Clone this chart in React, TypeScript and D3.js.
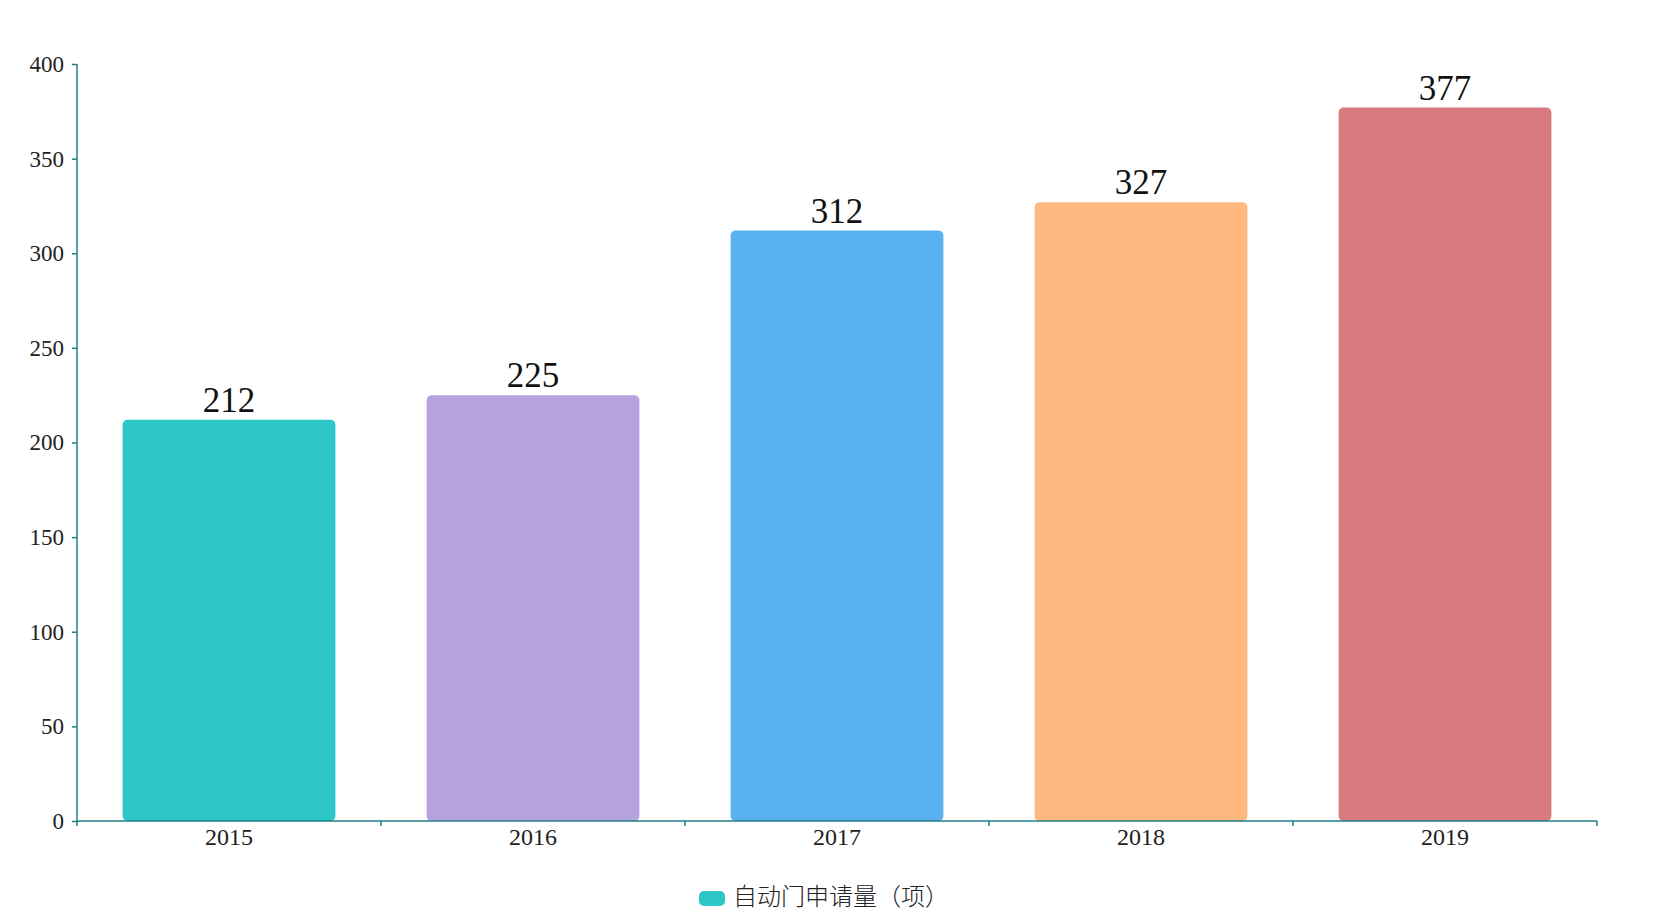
import { useRef, useEffect } from 'react';
import * as d3 from 'd3';

// Chart data
const years = ['2015', '2016', '2017', '2018', '2019'];
const counts = [212, 225, 312, 327, 377];
const barColors = ['#2ec7c9', '#b6a2de', '#5ab1ef', '#ffb980', '#d87a80'];
const yTicks = [0, 50, 100, 150, 200, 250, 300, 350, 400];
const legendLabel = '自动门申请量（项）';

const WIDTH = 1660;
const HEIGHT = 916;
const AXIS_COLOR = '#1f7f86';
const SERIF = '"Liberation Serif", "DejaVu Serif", serif';
const CJK = '"Noto Sans CJK SC", "Noto Sans", sans-serif';

export default function App() {
  const svgRef = useRef<SVGSVGElement>(null);

  useEffect(() => {
    if (!svgRef.current) return;
    const svg = d3.select(svgRef.current);
    svg.selectAll('*').remove();

    const margin = { top: 64, right: 63, bottom: 95, left: 77 };
    const innerWidth = WIDTH - margin.left - margin.right;
    const innerHeight = HEIGHT - margin.top - margin.bottom;

    const x = d3.scaleBand<string>()
      .domain(years)
      .range([0, innerWidth])
      .paddingInner(0.3)
      .paddingOuter(0.15);

    const y = d3.scaleLinear()
      .domain([0, 400])
      .range([innerHeight, 0]);

    const g = svg.append('g')
      .attr('transform', `translate(${margin.left},${margin.top})`);

    // Bars
    g.selectAll('rect.bar')
      .data(counts)
      .enter().append('rect')
      .attr('class', 'bar')
      .attr('x', (_, i) => x(years[i])!)
      .attr('y', d => y(d))
      .attr('width', x.bandwidth())
      .attr('height', d => innerHeight - y(d))
      .attr('rx', 5)
      .attr('ry', 5)
      .attr('fill', (_, i) => barColors[i]);

    // Value labels
    g.selectAll('text.value')
      .data(counts)
      .enter().append('text')
      .attr('class', 'value')
      .attr('x', (_, i) => x(years[i])! + x.bandwidth() / 2)
      .attr('y', d => y(d) - 8)
      .attr('text-anchor', 'middle')
      .attr('font-family', SERIF)
      .attr('font-size', 35)
      .attr('fill', '#111')
      .text(d => d);

    // Y axis
    const yAxis = d3.axisLeft(y).tickValues(yTicks).tickSize(5).tickPadding(8);
    const yG = g.append('g').call(yAxis);
    yG.select('.domain').attr('stroke', AXIS_COLOR).attr('stroke-width', 1.5).attr('d', `M0,${innerHeight}V0`);
    yG.selectAll('.tick line').attr('stroke', AXIS_COLOR).attr('stroke-width', 1.5);
    yG.selectAll('.tick text')
      .attr('font-family', SERIF)
      .attr('font-size', 23)
      .attr('fill', '#222');

    // X axis with ticks at band boundaries
    const xG = g.append('g').attr('transform', `translate(0,${innerHeight})`);
    xG.append('path')
      .attr('d', `M0,0H${innerWidth}`)
      .attr('stroke', AXIS_COLOR)
      .attr('stroke-width', 1.5)
      .attr('fill', 'none');
    const boundaries = d3.range(years.length + 1).map(i => i * (innerWidth / years.length));
    xG.selectAll('line.tick')
      .data(boundaries)
      .enter().append('line')
      .attr('x1', d => d)
      .attr('x2', d => d)
      .attr('y1', 0)
      .attr('y2', 5)
      .attr('stroke', AXIS_COLOR)
      .attr('stroke-width', 1.5);
    xG.selectAll('text.label')
      .data(years)
      .enter().append('text')
      .attr('class', 'label')
      .attr('x', d => x(d)! + x.bandwidth() / 2)
      .attr('y', 24)
      .attr('text-anchor', 'middle')
      .attr('font-family', SERIF)
      .attr('font-size', 24)
      .attr('fill', '#222')
      .text(d => d);

    // Legend
    const legend = svg.append('g').attr('transform', `translate(699,891)`);
    legend.append('rect')
      .attr('width', 26)
      .attr('height', 15)
      .attr('rx', 5)
      .attr('ry', 5)
      .attr('fill', barColors[0]);
    legend.append('text')
      .attr('x', 34)
      .attr('y', 3)
      .attr('dominant-baseline', 'central')
      .attr('font-family', CJK)
      .attr('font-size', 24)
      .attr('font-weight', 300)
      .attr('fill', '#222')
      .text(legendLabel);
  }, []);

  return (
    <svg
      ref={svgRef}
      width={WIDTH}
      height={HEIGHT}
      style={{ position: 'absolute', left: 0, top: 0, background: '#fff' }}
    />
  );
}
